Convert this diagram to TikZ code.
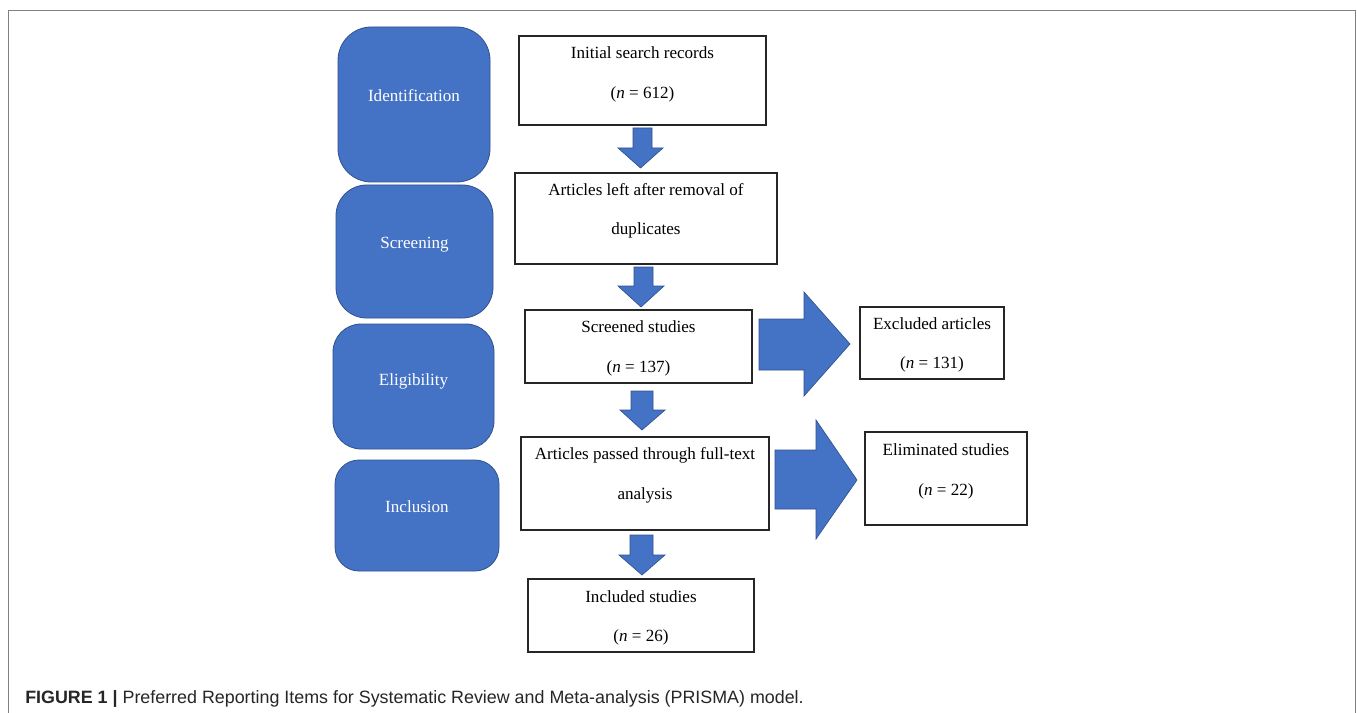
\documentclass[tikz,border=0pt]{standalone}
\usepackage{fontspec}
\setmainfont{Liberation Serif}
\newfontfamily\capfont{Liberation Sans}
\usetikzlibrary{fit,calc}
\definecolor{phaseblue}{HTML}{4472C4}
\definecolor{phaseedge}{HTML}{2F528F}
\definecolor{framegray}{HTML}{808080}
\begin{document}
\begin{tikzpicture}[x=0.75pt,y=-0.75pt,
 phase/.style={draw=phaseedge, line width=0.6pt, fill=phaseblue, inner sep=0pt},
 phasetext/.style={text=white, font=\fontsize{12.8}{15}\selectfont, inner sep=0pt, anchor=base},
 wbox/.style={draw=black!85, line width=1pt, fill=white, inner sep=0pt},
 wtext/.style={font=\fontsize{12.8}{15}\selectfont, inner sep=0pt, anchor=base},
 blockarrow/.style={draw=phaseedge, line width=0.5pt, fill=phaseblue, line join=miter}]
\useasboundingbox (0,0) rectangle (1357,713);
\fill[white] (0,0) rectangle (1357,713);
\draw[framegray, line width=1.1pt] (8.5,713) -- (8.5,10.5) -- (1355.5,10.5) -- (1355.5,713);

% phase boxes
\node[phase, rounded corners=25pt, fit={(338,27) (490,182)}] (ident) {};
\node[phase, rounded corners=23pt, fit={(336,185) (493,318)}] (screen) {};
\node[phase, rounded corners=21pt, fit={(333,324) (494,449)}] (elig) {};
\node[phase, rounded corners=18pt, fit={(335,460) (499,571)}] (incl) {};
\node[phasetext] (identT) at ($(ident.center)+(0,-3)$) {Identification};
\node[phasetext] (screenT) at ($(screen.center)+(0,-3)$) {Screening};
\node[phasetext] (eligT) at ($(elig.center)+(0,-1)$) {Eligibility};
\node[phasetext] (inclT) at ($(incl.center)+(0,-3)$) {Inclusion};

% white boxes
\node[wbox, fit={(519,36) (766,125)}] (init) {};
\node[wbox, fit={(515,173) (777,264)}] (dup) {};
\node[wbox, fit={(525,310) (752,383)}] (scr) {};
\node[wbox, fit={(860,307) (1004,379)}] (exc) {};
\node[wbox, fit={(521,437) (769,530)}] (full) {};
\node[wbox, fit={(865,432) (1027,525)}] (elim) {};
\node[wbox, fit={(528,579) (754,652)}] (inc) {};

\node[wtext] (initA) at ($(init.north)+(0,23.5)$) {Initial search records};
\node[wtext] (initB) at ($(init.north)+(0,63.5)$) {(\textit{n} = 612)};
\node[wtext] (dupA) at ($(dup.north)+(0,23.5)$) {Articles left after removal of};
\node[wtext] (dupB) at ($(dup.north)+(0,62.5)$) {duplicates};
\node[wtext] (scrA) at ($(scr.north)+(0,23.5)$) {Screened studies};
\node[wtext] (scrB) at ($(scr.north)+(0,63.5)$) {(\textit{n} = 137)};
\node[wtext] (excA) at ($(exc.north)+(0,23.5)$) {Excluded articles};
\node[wtext] (excB) at ($(exc.north)+(0,62.5)$) {(\textit{n} = 131)};
\node[wtext] (fullA) at ($(full.north)+(0,23.5)$) {Articles passed through full-text};
\node[wtext] (fullB) at ($(full.north)+(0,63.5)$) {analysis};
\node[wtext] (elimA) at ($(elim.north)+(0,24)$) {Eliminated studies};
\node[wtext] (elimB) at ($(elim.north)+(0,64)$) {(\textit{n} = 22)};
\node[wtext] (incA) at ($(inc.north)+(0,24)$) {Included studies};
\node[wtext] (incB) at ($(inc.north)+(0,63.5)$) {(\textit{n} = 26)};

% block arrows
\draw[blockarrow] (633,128) -- (652,128) -- (652,148) -- (663,148) -- (640.5,168) -- (618,148) -- (633,148) -- cycle;
\draw[blockarrow] (634,267) -- (653,267) -- (653,286) -- (664,286) -- (641,307) -- (618,286) -- (634,286) -- cycle;
\draw[blockarrow] (631,391) -- (653,391) -- (653,410) -- (665,410) -- (642,430) -- (620,410) -- (631,410) -- cycle;
\draw[blockarrow] (630,535) -- (653,535) -- (653,555) -- (665,555) -- (642,575) -- (619,555) -- (630,555) -- cycle;
\draw[blockarrow] (759,319) -- (804,319) -- (804,292) -- (850,344) -- (804,396) -- (804,370) -- (759,370) -- cycle;
\draw[blockarrow] (775,450) -- (816,450) -- (816,420) -- (857,480) -- (816,539) -- (816,509) -- (775,509) -- cycle;

% caption
\node[anchor=base west, inner sep=0pt, text=black!85, font=\capfont\fontsize{13.4}{15}\selectfont] (cap) at (25,703) {\textbf{FIGURE 1 |} Preferred Reporting Items for Systematic Review and Meta-analysis (PRISMA) model.};
\end{tikzpicture}
\end{document}
